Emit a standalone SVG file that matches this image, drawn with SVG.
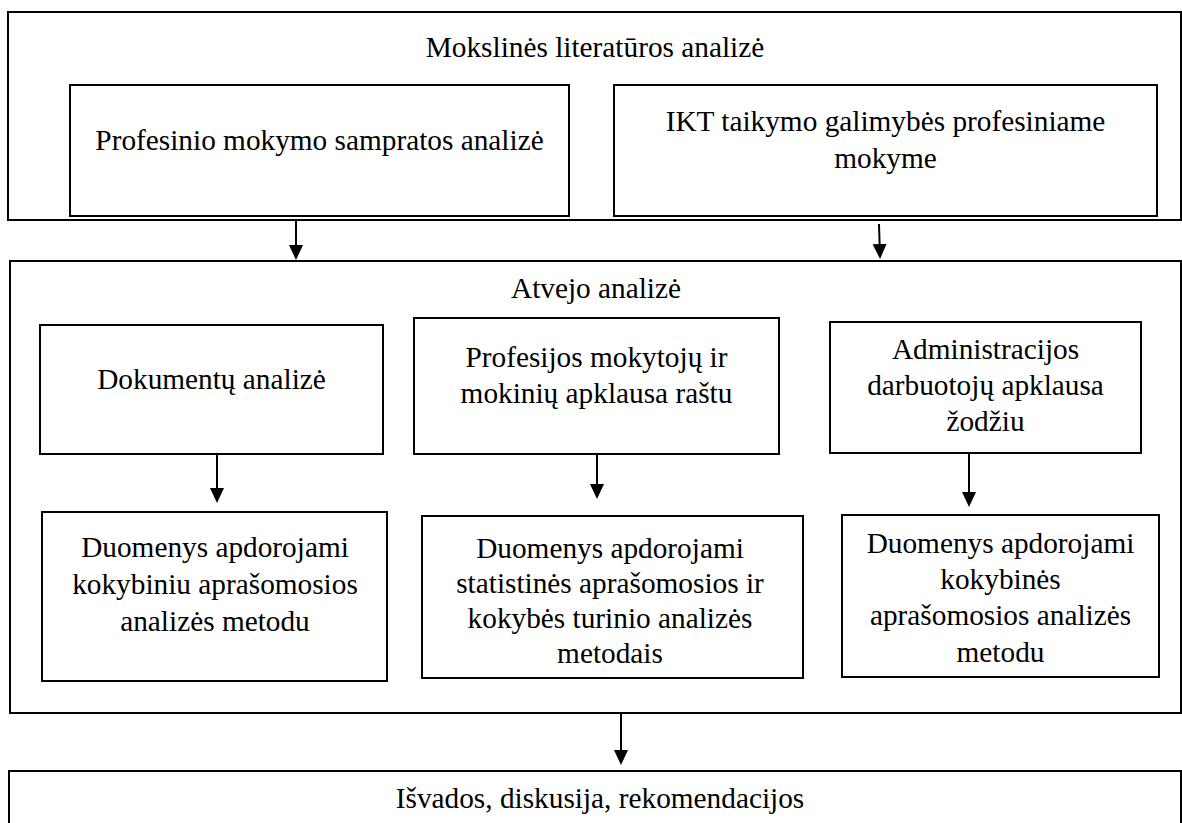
<svg xmlns="http://www.w3.org/2000/svg" width="1182" height="823" viewBox="0 0 1182 823">
  <style>
    .box { fill: none; stroke: #000; stroke-width: 2; }
    .frame { fill: none; stroke: #000; stroke-width: 2; }
    .lbl { font-family: "Liberation Serif", "Times New Roman", serif; font-size: 29.3px; fill: #000; text-anchor: middle; }
    .edge { stroke: #000; stroke-width: 2; fill: none; marker-end: url(#head); }
  </style>
  <defs>
    <marker id="head" markerUnits="userSpaceOnUse" markerWidth="16" markerHeight="15" refX="13" refY="7" orient="auto">
      <path d="M0,0 L15,7 L0,14 z" fill="#000"/>
    </marker>
  </defs>
  <rect width="1182" height="823" fill="#fff"/>

  <!-- literature review stage -->
  <g id="literature">
    <rect class="frame" x="8" y="12" width="1173" height="208"/>
    <text class="lbl" x="595" y="57">Mokslinės literatūros analizė</text>
  </g>
  <g id="vocational-concept">
    <rect class="box" x="70" y="85" width="499" height="131"/>
    <text class="lbl" x="319.5" y="150">Profesinio mokymo sampratos analizė</text>
  </g>
  <g id="ict-possibilities">
    <rect class="box" x="614" y="85" width="543" height="131"/>
    <text class="lbl" x="885.5" y="131">IKT taikymo galimybės profesiniame</text>
    <text class="lbl" x="885.5" y="168">mokyme</text>
  </g>

  <!-- case study stage -->
  <g id="case-study">
    <rect class="frame" x="10" y="261" width="1171" height="452"/>
    <text class="lbl" x="596" y="298">Atvejo analizė</text>
  </g>
  <g id="documents">
    <rect class="box" x="40" y="325" width="343" height="129"/>
    <text class="lbl" x="211.5" y="389">Dokumentų analizė</text>
  </g>
  <g id="written-survey">
    <rect class="box" x="414" y="318" width="365" height="136"/>
    <text class="lbl" x="596.5" y="367">Profesijos mokytojų ir</text>
    <text class="lbl" x="596.5" y="403">mokinių apklausa raštu</text>
  </g>
  <g id="oral-survey">
    <rect class="box" x="830" y="322" width="311" height="131"/>
    <text class="lbl" x="985.5" y="359">Administracijos</text>
    <text class="lbl" x="985.5" y="395">darbuotojų apklausa</text>
    <text class="lbl" x="985.5" y="431">žodžiu</text>
  </g>
  <g id="processing-documents">
    <rect class="box" x="42" y="512" width="345" height="169"/>
    <text class="lbl" x="215" y="557">Duomenys apdorojami</text>
    <text class="lbl" x="215" y="594">kokybiniu aprašomosios</text>
    <text class="lbl" x="215" y="631">analizės metodu</text>
  </g>
  <g id="processing-written">
    <rect class="box" x="422" y="516" width="381" height="162"/>
    <text class="lbl" x="610" y="558">Duomenys apdorojami</text>
    <text class="lbl" x="610" y="593">statistinės aprašomosios ir</text>
    <text class="lbl" x="610" y="628">kokybės turinio analizės</text>
    <text class="lbl" x="610" y="663">metodais</text>
  </g>
  <g id="processing-oral">
    <rect class="box" x="842" y="515" width="317" height="162"/>
    <text class="lbl" x="1000.5" y="553">Duomenys apdorojami</text>
    <text class="lbl" x="1000.5" y="589">kokybinės</text>
    <text class="lbl" x="1000.5" y="625">aprašomosios analizės</text>
    <text class="lbl" x="1000.5" y="662">metodu</text>
  </g>

  <!-- conclusions stage -->
  <g id="conclusions">
    <rect class="frame" x="9" y="771" width="1172" height="70"/>
    <text class="lbl" x="600" y="808">Išvados, diskusija, rekomendacijos</text>
  </g>

  <!-- connectors -->
  <g id="connectors">
    <line class="edge" x1="296" y1="221" x2="296" y2="258"/>
    <line class="edge" x1="879" y1="224" x2="880" y2="257"/>
    <line class="edge" x1="217" y1="455" x2="217" y2="501"/>
    <line class="edge" x1="597" y1="455" x2="597" y2="497"/>
    <line class="edge" x1="969" y1="454" x2="969" y2="505"/>
    <line class="edge" x1="621" y1="714" x2="621" y2="763"/>
  </g>
</svg>
